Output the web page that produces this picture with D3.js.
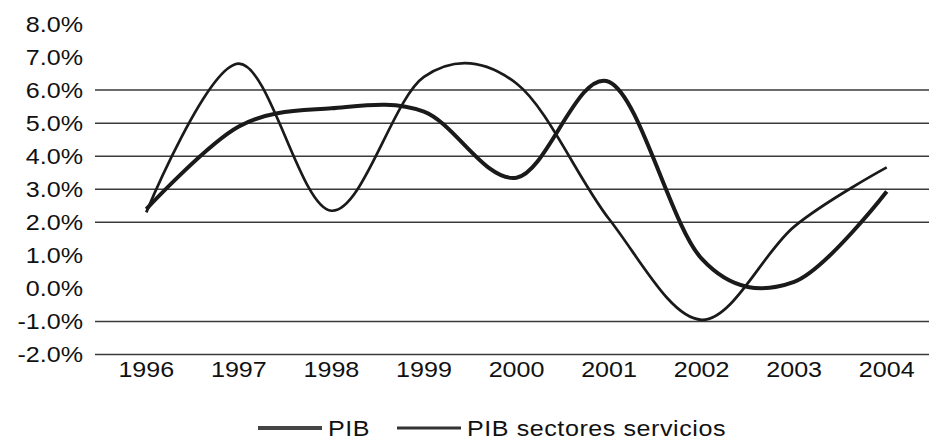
<!DOCTYPE html>
<html>
<head>
<meta charset="utf-8">
<script src="https://cdn.jsdelivr.net/npm/d3@7"></script>
<style>
  html, body { margin: 0; padding: 0; background: #fff; }
  svg { display: block; }
  text { font-family: "Liberation Sans", Arial, sans-serif; fill: #111; }
</style>
</head>
<body>
<svg id="chart" width="929" height="442"></svg>
<script>
const years = ["1996","1997","1998","1999","2000","2001","2002","2003","2004"];
const pib = [2.4, 4.9, 5.45, 5.35, 3.35, 6.25, 0.9, 0.2, 2.93];
const pibServicios = [2.3, 6.8, 2.35, 6.4, 6.2, 2.1, -0.95, 1.87, 3.66];
const yTicks = [8, 7, 6, 5, 4, 3, 2, 1, 0, -1, -2];
const gridValues = [6, 5, 4, 3, 2, -1, -2];
const seriesNames = ["PIB", "PIB sectores servicios"];

const FONT = "Liberation Sans, Arial, sans-serif";
const svg = d3.select("#chart");
const x = d3.scaleBand().domain(years).range([100, 933]).padding(0);
const cx = d => x(d) + x.bandwidth() / 2;
const y = d3.scaleLinear().domain([-2, 8]).range([354.5, 24]);

// gridlines
svg.append("g").selectAll("line").data(gridValues).join("line")
  .attr("x1", 95).attr("x2", 929)
  .attr("y1", d => y(d)).attr("y2", d => y(d))
  .attr("stroke", "#3a3a3a").attr("stroke-width", 1.5);

// y axis labels
const yAxis = d3.axisLeft(y).tickValues(yTicks).tickSize(0).tickPadding(0)
  .tickFormat(d => (d3.format(".1f")(d) + "%").replace("\u2212", "-"));
const gy = svg.append("g").attr("transform", "translate(83,0)").call(yAxis);
gy.select(".domain").remove();
gy.selectAll("text").style("font-family", FONT)
  .style("font-size", "22px").attr("fill", "#111")
  .attr("transform", "scale(1.14,1)");

// x axis labels
const xAxis = d3.axisBottom(x).tickSize(0).tickPadding(0);
const gx = svg.append("g").attr("transform", "translate(0,375)").call(xAxis);
gx.select(".domain").remove();
gx.selectAll("text").style("font-family", FONT)
  .style("font-size", "22px").attr("fill", "#111").attr("dy", "0.1em")
  .attr("transform", "scale(1.14,1)");

// lines
const line = d3.line().x((d, i) => cx(years[i])).y(d => y(d))
  .curve(d3.curveCardinal.tension(0));
svg.append("path").datum(pib).attr("d", line)
  .attr("fill", "none").attr("stroke", "#1a1a1a").attr("stroke-width", 4)
  .attr("stroke-linejoin", "round");
svg.append("path").datum(pibServicios).attr("d", line)
  .attr("fill", "none").attr("stroke", "#1a1a1a").attr("stroke-width", 2.7)
  .attr("stroke-linejoin", "round");

// legend
const legend = svg.append("g");
const legendItems = [
  { name: seriesNames[0], x0: 258, w: 4, color: "#444" },
  { name: seriesNames[1], x0: 397, w: 3, color: "#333" }
];
legendItems.forEach(it => {
  legend.append("line").attr("x1", it.x0).attr("x2", it.x0 + 64)
    .attr("y1", 428).attr("y2", 428).attr("stroke", it.color).attr("stroke-width", it.w);
  legend.append("g").attr("transform", `translate(${it.x0 + 70},436)`)
    .append("text").attr("transform", "scale(1.14,1)")
    .style("font-size", "22px").style("letter-spacing", "0.5px").text(it.name);
});
</script>
</body>
</html>
